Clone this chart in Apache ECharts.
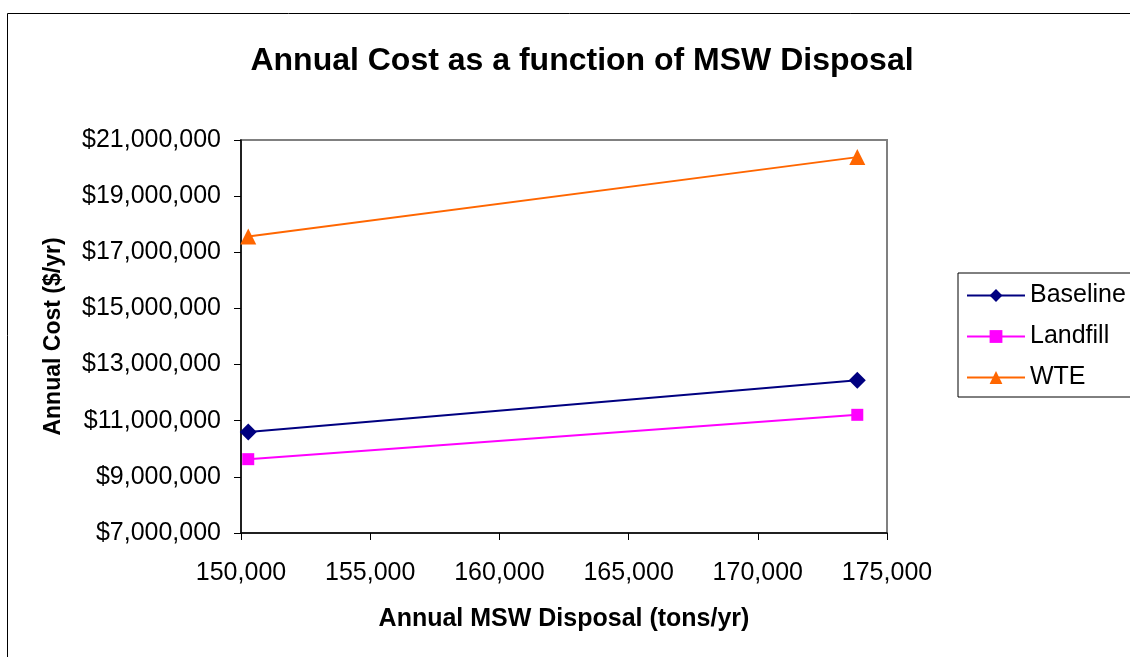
<!DOCTYPE html>
<html><head><meta charset="utf-8">
<script src="https://cdn.jsdelivr.net/npm/echarts@6/dist/echarts.min.js"></script>
<style>html,body{margin:0;padding:0;background:#fff}#c{width:1130px;height:657px}</style>
</head><body><div id="c"></div>
<script>
const xValues = [150280, 173850];
const baseline = [10600000, 12440000];
const landfill = [9630000, 11210000];
const wte = [17560000, 20390000];
const seriesNames = ['Baseline', 'Landfill', 'WTE'];

const chart = echarts.init(document.getElementById('c'));
const F = 'Liberation Sans, Arial, sans-serif';
function pairs(ys){ return xValues.map((x,i)=>[x, ys[i]]); }
function fmtNum(v){ return String(Math.round(v)).replace(/\B(?=(\d{3})+(?!\d))/g, ','); }
chart.setOption({
  animation: false,
  backgroundColor: '#fff',
  title: { text: 'Annual Cost as a function of MSW Disposal', left: 577, top: 40, textAlign: 'center',
    textStyle: { fontFamily: F, fontSize: 32, fontWeight: 'bold', color: '#000' } },
  graphic: [{ type: 'rect', shape: { x: 7.5, y: 13.5, width: 1130, height: 660 }, style: { fill: 'none', stroke: '#000', lineWidth: 1 }, silent: true }],
  grid: { left: 241, right: 243, top: 140, bottom: 124, show: true, borderColor: '#808080', borderWidth: 2, backgroundColor: '#fff' },
  legend: {
    orient: 'vertical', left: 958, top: 273, data: seriesNames,
    itemWidth: 58, itemHeight: 16, itemGap: 16,
    padding: [10, 10, 7, 8],
    borderColor: '#000', borderWidth: 1, backgroundColor: '#fff',
    textStyle: { fontFamily: F, fontSize: 25, color: '#000' }
  },
  xAxis: {
    type: 'value', min: 150000, max: 175000, interval: 5000,
    name: 'Annual MSW Disposal (tons/yr)', nameLocation: 'middle', nameGap: 74,
    nameTextStyle: { fontFamily: F, fontSize: 25, fontWeight: 'bold', color: '#000' },
    axisLine: { show: true, lineStyle: { color: '#000', width: 1.5 } },
    axisTick: { show: true, length: 7, lineStyle: { color: '#000' } },
    axisLabel: { fontFamily: F, fontSize: 25, color: '#000', margin: 28, formatter: v => fmtNum(v) },
    splitLine: { show: false }
  },
  yAxis: {
    type: 'value', min: 7000000, max: 21000000, interval: 2000000,
    name: 'Annual Cost ($/yr)', nameLocation: 'middle', nameGap: 176,
    nameTextStyle: { fontFamily: F, fontSize: 23, fontWeight: 'bold', color: '#000' },
    axisLine: { show: true, lineStyle: { color: '#000', width: 1.5 } },
    axisTick: { show: true, length: 7, lineStyle: { color: '#000' } },
    axisLabel: { fontFamily: F, fontSize: 25, color: '#000', margin: 20, formatter: v => '$' + fmtNum(v) },
    splitLine: { show: false }
  },
  series: [
    { name: 'Baseline', type: 'line', data: pairs(baseline), symbol: 'diamond', symbolSize: 17,
      lineStyle: { color: '#000080', width: 2 }, itemStyle: { color: '#000080' } },
    { name: 'Landfill', type: 'line', data: pairs(landfill), symbol: 'rect', symbolSize: 12,
      lineStyle: { color: '#ff00ff', width: 2 }, itemStyle: { color: '#ff00ff' } },
    { name: 'WTE', type: 'line', data: pairs(wte), symbol: 'triangle', symbolSize: 16,
      lineStyle: { color: '#ff6600', width: 2 }, itemStyle: { color: '#ff6600' } }
  ]
});
</script></body></html>
